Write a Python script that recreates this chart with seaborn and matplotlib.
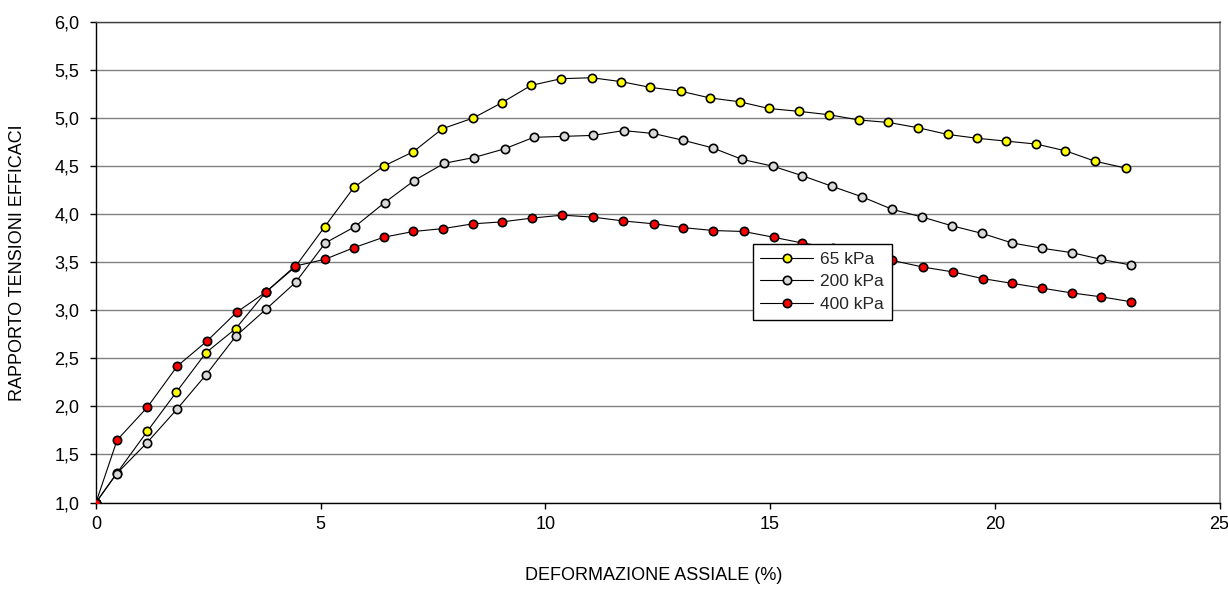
import matplotlib
matplotlib.use("Agg")
import matplotlib.pyplot as plt
import seaborn as sns
import pandas as pd
from matplotlib.ticker import FuncFormatter, MultipleLocator

# ---- data ----
x_65 = [0, 0.47, 1.14, 1.79, 2.45, 3.11, 3.78, 4.43, 5.09, 5.74, 6.40, 7.06, 7.71, 8.39,
        9.03, 9.68, 10.35, 11.03, 11.68, 12.33, 13.01, 13.66, 14.32, 14.97, 15.65, 16.31,
        16.98, 17.63, 18.29, 18.95, 19.61, 20.26, 20.92, 21.57, 22.24, 22.91]
y_65 = [1.00, 1.31, 1.74, 2.15, 2.56, 2.81, 3.19, 3.45, 3.87, 4.28, 4.50, 4.65, 4.89, 5.00,
        5.16, 5.34, 5.41, 5.42, 5.38, 5.32, 5.28, 5.21, 5.17, 5.10, 5.07, 5.035,
        4.98, 4.955, 4.90, 4.83, 4.79, 4.76, 4.73, 4.66, 4.55, 4.48]

x_200 = [0, 0.46, 1.13, 1.80, 2.45, 3.11, 3.78, 4.44, 5.10, 5.76, 6.42, 7.08, 7.75, 8.41,
         9.09, 9.74, 10.41, 11.06, 11.74, 12.40, 13.06, 13.72, 14.38, 15.06, 15.72, 16.38,
         17.05, 17.72, 18.39, 19.04, 19.72, 20.39, 21.06, 21.71, 22.37, 23.04]
y_200 = [1.00, 1.30, 1.62, 1.97, 2.33, 2.73, 3.01, 3.29, 3.70, 3.87, 4.12, 4.35, 4.53, 4.59,
         4.68, 4.80, 4.81, 4.82, 4.87, 4.84, 4.77, 4.69, 4.57, 4.50, 4.40, 4.29,
         4.18, 4.05, 3.97, 3.88, 3.80, 3.70, 3.645, 3.60, 3.53, 3.47]

x_400 = [0, 0.47, 1.14, 1.81, 2.47, 3.13, 3.78, 4.43, 5.09, 5.73, 6.40, 7.06, 7.72, 8.39,
         9.03, 9.71, 10.38, 11.05, 11.73, 12.41, 13.07, 13.74, 14.41, 15.08, 15.72, 16.39,
         17.05, 17.71, 18.40, 19.06, 19.73, 20.39, 21.06, 21.72, 22.37, 23.02]
y_400 = [1.00, 1.65, 1.99, 2.42, 2.68, 2.98, 3.19, 3.46, 3.53, 3.65, 3.76, 3.82, 3.85, 3.90,
         3.92, 3.96, 3.99, 3.97, 3.93, 3.90, 3.86, 3.83, 3.82, 3.76, 3.70, 3.65,
         3.58, 3.52, 3.45, 3.40, 3.33, 3.28, 3.23, 3.18, 3.14, 3.09]

series_labels = ["65 kPa", "200 kPa", "400 kPa"]
marker_colors = ["#ffff00", "#d9d9d9", "#ff0000"]

x_label = "DEFORMAZIONE ASSIALE (%)"
y_label = "RAPPORTO TENSIONI EFFICACI"

# ---- plot ----
sns.set_theme(style="white")
plt.rcParams["font.family"] = ["Liberation Sans", "DejaVu Sans"]

fig = plt.figure(figsize=(12.28, 5.89), dpi=100)
ax = fig.add_axes([96 / 1228, 1 - 502.5 / 589, (1219.5 - 96) / 1228, (502.5 - 22) / 589])

frames = []
for lab, xs, ys in zip(series_labels, [x_65, x_200, x_400], [y_65, y_200, y_400]):
    frames.append(pd.DataFrame({"x": xs, "y": ys, "serie": lab}))
df = pd.concat(frames, ignore_index=True)

for lab, col in zip(series_labels, marker_colors):
    sub = df[df["serie"] == lab]
    sns.lineplot(data=sub, x="x", y="y", ax=ax, sort=False, estimator=None,
                 color="black", linewidth=0.8, marker="o", markersize=6,
                 markerfacecolor=col, markeredgecolor="black", markeredgewidth=1.2,
                 label=lab, zorder=3)

ax.set_xlim(0, 25)
ax.set_ylim(1.0, 6.0)
ax.xaxis.set_major_locator(MultipleLocator(5))
ax.yaxis.set_major_locator(MultipleLocator(0.5))
ax.yaxis.set_major_formatter(FuncFormatter(lambda v, p: f"{v:.1f}".replace(".", ",")))
ax.xaxis.set_major_formatter(FuncFormatter(lambda v, p: f"{v:.0f}"))

ax.grid(False)
ax.yaxis.grid(True, color="#808080", linewidth=1.0, zorder=0)
ax.set_axisbelow(True)

for s in ["left", "bottom"]:
    ax.spines[s].set_color("black")
    ax.spines[s].set_linewidth(1.0)
ax.spines["top"].set_color("#404040")
ax.spines["top"].set_linewidth(1.0)
ax.spines["right"].set_color("#808080")
ax.spines["right"].set_linewidth(1.2)

ax.tick_params(axis="both", which="major", direction="out", length=4, width=1.0,
               color="black", labelsize=13, labelcolor="black",
               bottom=True, left=True)
ax.tick_params(axis="y", pad=8)
ax.tick_params(axis="x", pad=6)

ax.set_xlabel(x_label, fontsize=13, color="black", va="top")
ax.set_ylabel(y_label, fontsize=13, color="black")
ax.xaxis.set_label_coords(0.4965, -0.135)
ax.yaxis.set_label_coords(-0.062, 0.5)

leg = ax.legend(loc="upper left", bbox_to_anchor=(0.5845, 0.538), borderaxespad=0,
                frameon=True, fancybox=False, shadow=False, fontsize=12.5,
                handlelength=3.0, handletextpad=0.45, labelspacing=0.42,
                borderpad=0.45)
leg.get_frame().set_edgecolor("black")
leg.get_frame().set_linewidth(1.0)
leg.get_frame().set_facecolor("white")
leg.get_frame().set_alpha(1.0)
leg.set_zorder(5)

fig.savefig("out.png", dpi=100, facecolor="white")
